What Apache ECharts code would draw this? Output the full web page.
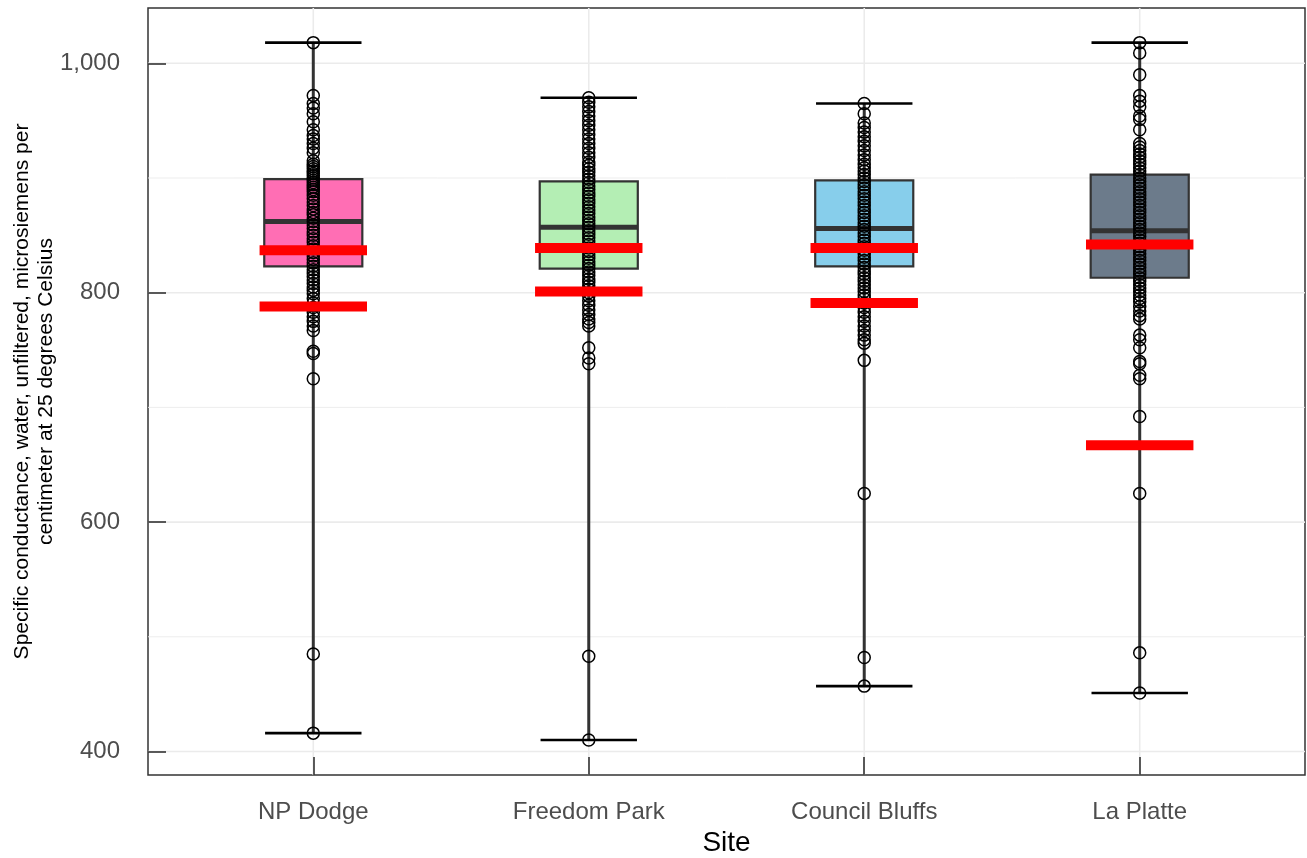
<!DOCTYPE html>
<html>
<head>
<meta charset="utf-8">
<title>Specific conductance by site</title>
<script src="https://cdn.jsdelivr.net/npm/echarts@6/dist/echarts.min.js"></script>
<style>
  html, body { margin: 0; padding: 0; background: #ffffff; }
  #chart { width: 1307px; height: 858px; }
</style>
</head>
<body>
<div id="chart"></div>
<script>
// Sites along the x axis (positions 1..4)
const sites = ['NP Dodge', 'Freedom Park', 'Council Bluffs', 'La Platte'];

// Box statistics per site: [min, Q1, median, Q3, max]
const boxMin    = [416, 410, 457, 451];
const boxQ1     = [823, 821, 823, 813];
const boxMedian = [862, 857, 856, 854];
const boxQ3     = [899, 897, 898, 903];
const boxMax    = [1018, 970, 965, 1018];

// Reference levels drawn as red bars
const refUpper = [837, 839, 839, 842];
const refLower = [788, 801, 791, 667];

// Individual samples, µS/cm at 25 °C
const npDodge = [1018, 972, 965, 961, 956, 949, 942, 937, 934, 930, 926, 922,
  915, 912, 910, 908, 906, 904, 902, 900, 898, 896, 894, 892, 890, 888, 885, 882,
  879, 876, 873, 870, 868, 865, 862, 859, 856, 853, 850, 847, 844, 841, 838, 835,
  832, 829, 826, 823, 820, 817, 814, 811, 808, 805, 802, 799, 795, 791, 787, 783,
  779, 775, 771, 767, 749, 747, 725, 485, 416];
const freedomPark = [970, 966, 962, 958, 954, 950, 946, 942, 938, 934, 930, 926,
  922, 918, 914, 911, 908, 905, 902, 899, 896, 893, 890, 887, 884, 881, 878, 875,
  872, 869, 866, 863, 860, 857, 854, 851, 848, 845, 842, 839, 836, 833, 830, 827,
  824, 821, 818, 815, 812, 809, 806, 803, 800, 797, 793, 789, 785, 781, 777, 774,
  771, 752, 743, 738, 483, 410];
const councilBluffs = [965, 956, 948, 944, 940, 936, 932, 928, 924, 920, 916, 912,
  909, 906, 903, 900, 897, 894, 891, 888, 885, 882, 879, 876, 873, 870, 867, 864,
  861, 858, 855, 852, 849, 846, 843, 840, 837, 834, 831, 828, 825, 822, 819, 816,
  813, 810, 807, 804, 801, 798, 795, 791, 787, 783, 779, 775, 771, 767, 763, 759,
  756, 741, 625, 482, 457];
const laPlatte = [1018, 1009, 990, 972, 967, 962, 954, 951, 942, 930, 927, 924,
  921, 918, 915, 912, 909, 906, 903, 900, 897, 894, 891, 888, 885, 882, 879, 876,
  873, 870, 867, 864, 861, 858, 855, 852, 849, 846, 843, 840, 837, 834, 831, 828,
  825, 822, 819, 816, 813, 810, 807, 804, 801, 798, 795, 792, 788, 784, 780, 777,
  763, 759, 752, 740, 738, 728, 725, 692, 625, 486, 451];

// Axis ticks and gridlines
const xTicks = [1, 2, 3, 4];
const yTicks = [400, 600, 800, 1000];
const yMinorGrid = [500, 700, 900];

// Styling
const boxFills = ['#FF6EB4', '#B4EEB4', '#87CEEB', '#6C7B8B'];
const BOX_W = 0.356, CAP_W = 0.35, REF_W = 0.39;
const FONT = '"Liberation Sans", Arial, Helvetica, sans-serif';

const samplesBySite = [npDodge, freedomPark, councilBluffs, laPlatte];
const pointData = [];
samplesBySite.forEach((arr, i) => arr.forEach(v => pointData.push([i + 1, v])));

const boxData = sites.map((s, i) => [i + 1, boxMin[i], boxQ1[i], boxMedian[i], boxQ3[i], boxMax[i]]);
const refData = [];
sites.forEach((s, i) => { refData.push([i + 1, refUpper[i]]); refData.push([i + 1, refLower[i]]); });

const gridData = [];
yTicks.forEach(v => gridData.push(['h', v, 1]));
yMinorGrid.forEach(v => gridData.push(['h', v, 0]));
xTicks.forEach(v => gridData.push(['v', v, 1]));

function renderGrid(params, api) {
  const cs = params.coordSys;
  const kind = gridData[params.dataIndex][0];
  const v = api.value(1);
  const major = api.value(2) === 1;
  const style = { stroke: '#EBEBEB', lineWidth: major ? 1.6 : 0.9 };
  if (kind === 'h') {
    const y = api.coord([1, v])[1];
    return { type: 'line', shape: { x1: cs.x, y1: y, x2: cs.x + cs.width, y2: y }, style };
  }
  const x = api.coord([v, 500])[0];
  return { type: 'line', shape: { x1: x, y1: cs.y, x2: x, y2: cs.y + cs.height }, style };
}

function renderBox(params, api) {
  const xv = api.value(0);
  const cx = api.coord([xv, api.value(1)])[0];
  const yMin = api.coord([xv, api.value(1)])[1];
  const yQ1 = api.coord([xv, api.value(2)])[1];
  const yMed = api.coord([xv, api.value(3)])[1];
  const yQ3 = api.coord([xv, api.value(4)])[1];
  const yMax = api.coord([xv, api.value(5)])[1];
  const half = api.size([BOX_W, 0])[0] / 2;
  const capHalf = api.size([CAP_W, 0])[0] / 2;
  return {
    type: 'group',
    children: [
      { type: 'line', shape: { x1: cx, y1: yMax, x2: cx, y2: yMin }, style: { stroke: '#333333', lineWidth: 3 } },
      { type: 'rect', shape: { x: cx - half, y: yQ3, width: half * 2, height: yQ1 - yQ3 },
        style: { fill: boxFills[params.dataIndex], stroke: '#333333', lineWidth: 2.2 } },
      { type: 'line', shape: { x1: cx - half, y1: yMed, x2: cx + half, y2: yMed }, style: { stroke: '#333333', lineWidth: 5 } },
      { type: 'line', shape: { x1: cx - capHalf, y1: yMax, x2: cx + capHalf, y2: yMax }, style: { stroke: '#000000', lineWidth: 2.6 } },
      { type: 'line', shape: { x1: cx - capHalf, y1: yMin, x2: cx + capHalf, y2: yMin }, style: { stroke: '#000000', lineWidth: 2.6 } }
    ]
  };
}

function renderRef(params, api) {
  const p = api.coord([api.value(0), api.value(1)]);
  const half = api.size([REF_W, 0])[0] / 2;
  return { type: 'line', shape: { x1: p[0] - half, y1: p[1], x2: p[0] + half, y2: p[1] },
    style: { stroke: '#FF0000', lineWidth: 10 } };
}

const chart = echarts.init(document.getElementById('chart'), null, { renderer: 'canvas' });
chart.setOption({
  animation: false,
  backgroundColor: '#ffffff',
  grid: { left: 148, right: 2, top: 8, bottom: 83, outerBoundsMode: 'none', containLabel: false,
    show: true, borderColor: '#333333', borderWidth: 1.5, backgroundColor: 'transparent' },
  xAxis: {
    type: 'value', min: 0.4, max: 4.6, z: 10,
    axisLine: { show: false },
    splitLine: { show: false },
    axisTick: { show: true, inside: true, length: 18, customValues: xTicks, lineStyle: { color: '#333333', width: 1.6 } },
    axisLabel: { customValues: xTicks, formatter: v => sites[Math.round(v) - 1], color: '#4D4D4D', fontSize: 24, margin: 25, fontFamily: FONT },
    name: 'Site', nameLocation: 'middle', nameGap: 54, nameMoveOverlap: false,
    nameTextStyle: { fontSize: 28, color: '#000000', fontFamily: FONT }
  },
  yAxis: {
    type: 'value', min: 379.5, max: 1048.2, z: 10,
    axisLine: { show: false },
    splitLine: { show: false },
    axisTick: { show: true, inside: true, length: 18, customValues: yTicks, lineStyle: { color: '#333333', width: 1.6 } },
    axisLabel: { customValues: yTicks, formatter: v => Math.round(v).toLocaleString('en-US'), color: '#4D4D4D', fontSize: 24, margin: 28, fontFamily: FONT },
    name: 'Specific conductance, water, unfiltered, microsiemens per\ncentimeter at 25 degrees Celsius',
    nameLocation: 'middle', nameGap: 90, nameRotate: 90, nameMoveOverlap: false,
    nameTextStyle: { fontSize: 21, lineHeight: 24, color: '#000000', fontFamily: FONT, align: 'center' }
  },
  series: [
    { type: 'custom', name: 'grid', silent: true, z: 1, data: gridData.map(d => [0, d[1], d[2]]), renderItem: renderGrid },
    { type: 'custom', name: 'box', silent: true, z: 2, data: boxData, renderItem: renderBox },
    { type: 'scatter', name: 'samples', silent: true, z: 3, data: pointData, symbol: 'circle', symbolSize: 12,
      itemStyle: { color: 'rgba(0,0,0,0)', borderColor: '#000000', borderWidth: 1.5, opacity: 1 } },
    { type: 'custom', name: 'reference', silent: true, z: 4, data: refData, renderItem: renderRef }
  ]
});
</script>
</body>
</html>
